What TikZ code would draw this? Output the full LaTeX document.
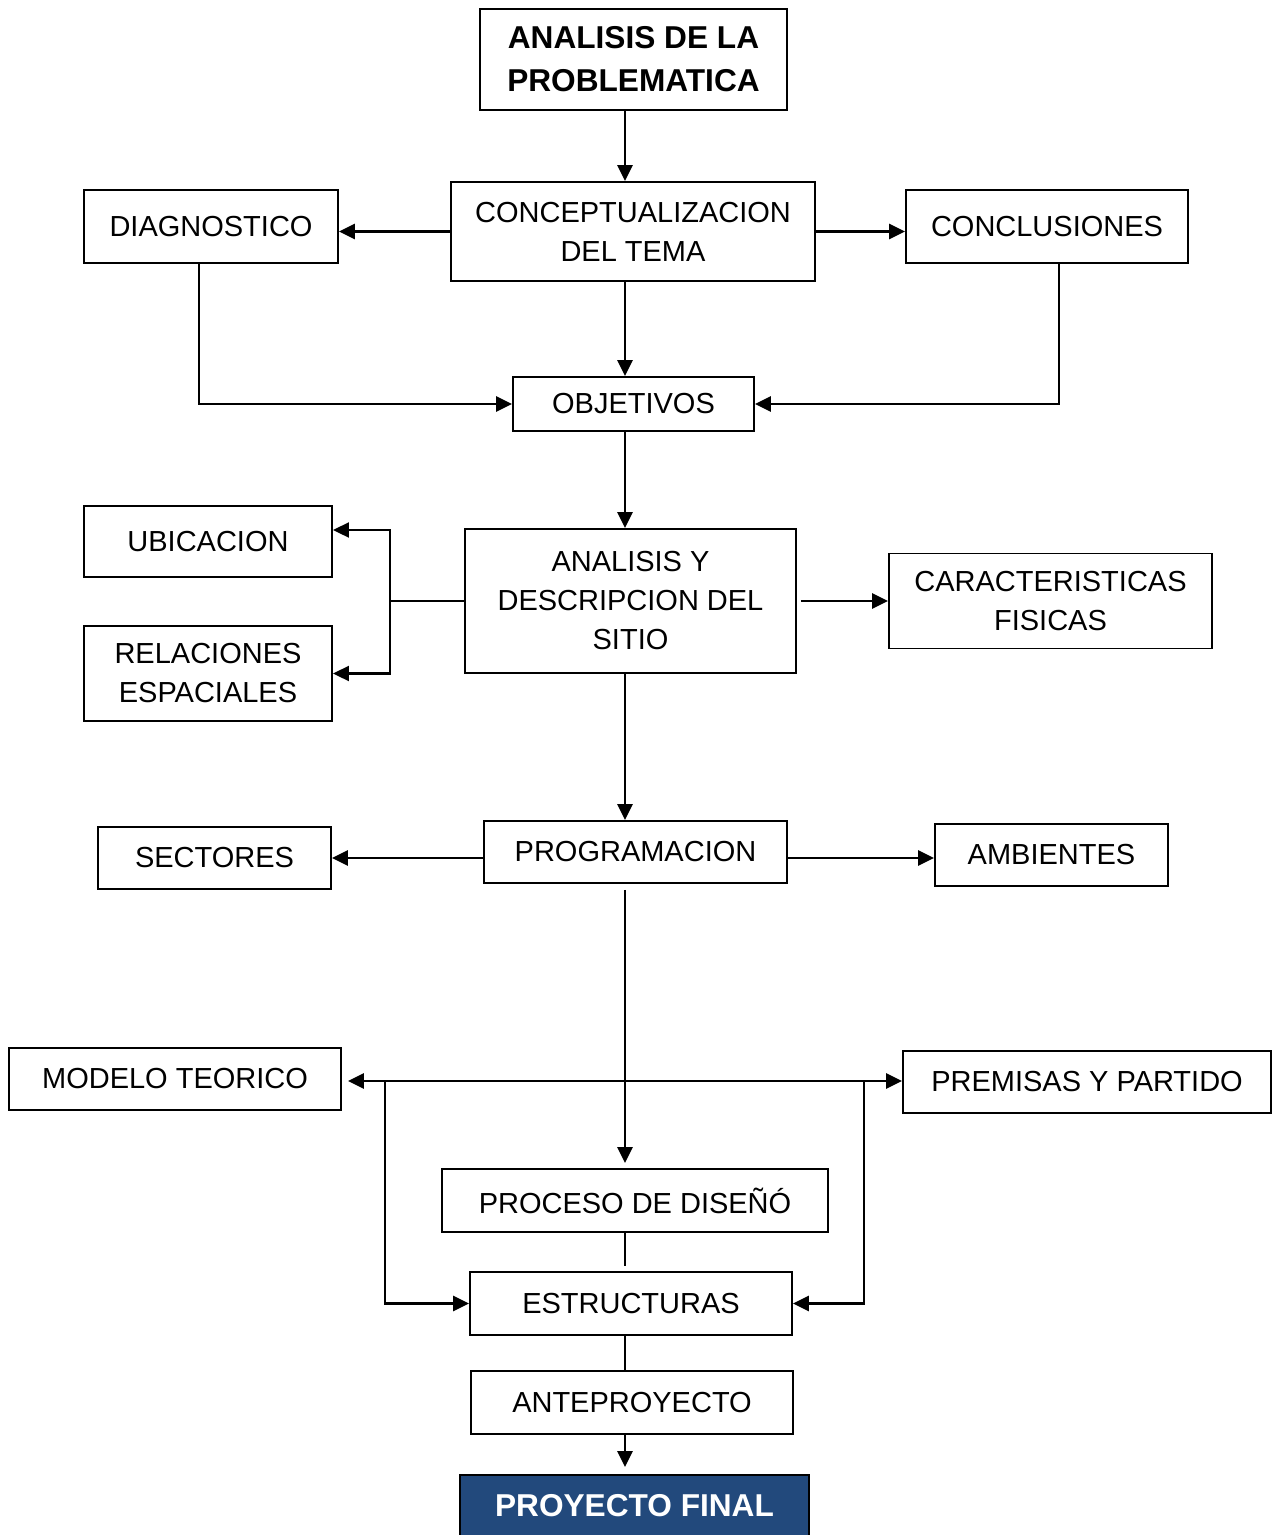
\documentclass[tikz,border=0pt]{standalone}
\usepackage{fontspec}
\setmainfont{Liberation Sans}
\usetikzlibrary{calc,arrows.meta}
\definecolor{azulfinal}{RGB}{34,73,124}
% caja: [estilo extra]{nombre}{x}{y}{ancho}{alto}{texto}, en pixeles
\newcommand{\caja}[7][]{%
  \node[caja, #1, minimum width=#5*0.02cm, minimum height=#6*0.02cm]
    (#2) at (#3, #4) {#7};%
}

\begin{document}
\begin{tikzpicture}[>={Triangle[length=3.2mm,width=3mm]}, x=0.02cm, y=-0.02cm,
  caja/.style={draw, line width=1.1pt, align=center, inner sep=0pt,
    font=\fontsize{16.5}{22.2}\selectfont},
  titulo/.style={font=\fontsize{18}{24.5}\selectfont\bfseries},
  flecha/.style={->, line width=1.6pt},
  enlace/.style={line width=0.9pt}]
  \useasboundingbox (0,0) rectangle (1272,1535);
  \coordinate (eje) at (625,0);

  % Cajas
  \caja[titulo]{prob}{633.5}{59.5}{307}{101}{ANALISIS DE LA\\PROBLEMATICA}
  \caja{conc}{633}{231.5}{364}{99}{CONCEPTUALIZACION\\DEL TEMA}
  \caja{diag}{211}{226.5}{254}{73}{DIAGNOSTICO}
  \caja{concl}{1047}{226.5}{282}{73}{CONCLUSIONES}
  \caja{obj}{633.5}{404}{241}{54}{OBJETIVOS}
  \caja{ubic}{208}{541.5}{248}{71}{UBICACION}
  \caja{rel}{208}{673.5}{248}{95}{RELACIONES\\ESPACIALES}
  \caja{sitio}{630.5}{601}{331}{144}{ANALISIS Y\\DESCRIPCION DEL\\SITIO}
  \caja{carac}{1050.5}{601}{323}{95}{CARACTERISTICAS\\FISICAS}
  \caja{sect}{214.5}{858}{233}{62}{SECTORES}
  \caja{prog}{635.5}{852}{303}{62}{PROGRAMACION}
  \caja{amb}{1051.5}{855}{233}{62}{AMBIENTES}
  \caja{modelo}{175}{1079}{332}{62}{MODELO TEORICO}
  \caja{premisas}{1087}{1082}{368}{62}{PREMISAS Y PARTIDO}
  \caja{proc}{635}{1200.5}{386}{63}{PROCESO DE DISEÑÓ}
  \caja{estr}{631}{1303.5}{322}{63}{ESTRUCTURAS}
  \caja{ante}{632}{1402.5}{322}{63}{ANTEPROYECTO}
  \caja[titulo, fill=azulfinal, text=white]{final}{634.5}{1506}{349}{62}{PROYECTO FINAL}

  % Conexiones
  \draw[flecha] (prob.south -| eje) -- (conc.north -| eje);
  \draw[flecha] (conc.west) -- (conc.west -| diag.east);
  \draw[flecha] (conc.east) -- (conc.east -| concl.west);
  \draw[flecha] (conc.south -| eje) -- (obj.north -| eje);
  \draw[flecha] ([xshift=-0.24cm]diag.south) |- (obj.west);
  \draw[flecha] ([xshift=0.24cm]concl.south) |- (obj.east);
  \draw[flecha] (obj.south -| eje) -- (sitio.north -| eje);

  \coordinate (rama) at (390,601);
  \draw[enlace, line width=1.2pt] (sitio.west) -- (rama);
  \draw[flecha, <->, line width=1.2pt] ([yshift=0.23cm]ubic.east) -| (rama) |- (rel.east);
  \draw[flecha] ([xshift=0.08cm]sitio.east) -- (sitio.east -| carac.west);
  \draw[flecha] (sitio.south -| eje) -- (prog.north -| eje);

  \draw[flecha] (prog.west |- sect.east) -- (sect.east);
  \draw[flecha] (prog.east |- sect.east) -- (amb.west |- sect.east);
  \draw[flecha, shorten >=0.1cm] ($(prog.south -| eje)+(0,6)$) -- (proc.north -| eje);

  \coordinate (cruce) at (625,1081);
  \draw[flecha, <->] ($(modelo.east |- cruce)+(6,0)$) -- (premisas.west |- cruce);
  \coordinate (izq) at (385,1081);
  \coordinate (der) at (864,1081);
  \draw[flecha] (izq) |- (estr.west);
  \draw[flecha] (der) |- (estr.east);

  \draw[enlace, shorten >=0.1cm] (proc.south -| eje) -- (estr.north -| eje);
  \draw[enlace] (estr.south -| eje) -- (ante.north -| eje);
  \draw[flecha, shorten >=0.14cm] (ante.south -| eje) -- (final.north -| eje);
\end{tikzpicture}
\end{document}
